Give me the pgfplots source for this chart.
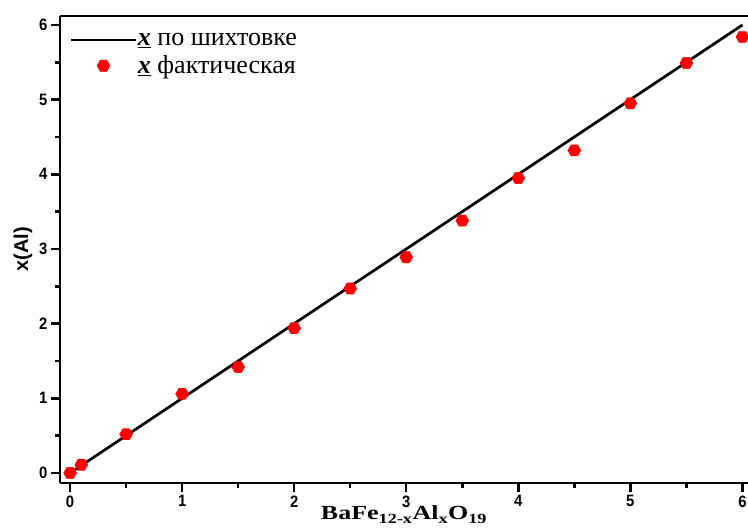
\documentclass[border=0pt]{standalone}
\usepackage{fontspec}
\setmainfont{Liberation Serif}
\newfontfamily\arialfont{Liberation Sans}
\newfontfamily\arialnarrow{Liberation Sans}[FakeStretch=0.9]
\newfontfamily\serifwide{Liberation Serif}[FakeStretch=1.3]
\newfontfamily\seriflegend{Liberation Serif}
\usepackage{pgfplots}
\pgfplotsset{compat=1.18}
\pgfdeclareplotmark{hexagon}{%
  \pgfpathmoveto{\pgfqpointpolar{0}{\pgfplotmarksize}}%
  \pgfpathlineto{\pgfqpointpolar{60}{\pgfplotmarksize}}%
  \pgfpathlineto{\pgfqpointpolar{120}{\pgfplotmarksize}}%
  \pgfpathlineto{\pgfqpointpolar{180}{\pgfplotmarksize}}%
  \pgfpathlineto{\pgfqpointpolar{240}{\pgfplotmarksize}}%
  \pgfpathlineto{\pgfqpointpolar{300}{\pgfplotmarksize}}%
  \pgfpathclose
  \pgfusepathqfillstroke}
\pgfplotsset{
  lineleg/.style={legend image code/.code={\draw[##1] (0bp,0bp) -- (65bp,0bp);}},
  markleg/.style={legend image code/.code={\draw[##1,mark repeat=2,mark phase=2] plot coordinates {(0bp,0bp) (33bp,0bp) (66bp,0bp)};}},
}
\begin{document}
\begin{tikzpicture}
\useasboundingbox (0,0) rectangle (748bp,528bp);
\begin{axis}[
  scale only axis, width=688bp, height=467bp,
  at={(60bp,45bp)}, anchor=south west,
  xmin=-0.09, xmax=6.05, ymin=-0.134, ymax=6.12,
  axis x line=box, axis y line=left,
  axis line style={-, line width=2.5bp, black},
  xtick pos=bottom,
  xtick={0,1,2,3,4,5,6}, ytick={0,1,2,3,4,5,6},
  minor x tick num=1, minor y tick num=1,
  tick align=outside,
  major tick length=9bp, minor tick length=5bp,
  every tick/.style={line width=2.5bp, black},
  /pgf/number format/assume math mode=true,
  tick label style={font=\arialnarrow\bfseries\fontsize{16.5bp}{16.5bp}\selectfont},
  xlabel={\textbf{BaFe\textsubscript{12-x}Al\textsubscript{x}O\textsubscript{19}}},
  xlabel style={font=\serifwide\fontsize{20bp}{20bp}\selectfont, yshift=8bp},
  ylabel={\textbf{x(Al)}},
  ylabel style={font=\arialfont\fontsize{20bp}{20bp}\selectfont, yshift=0bp},
  legend style={at={(rel axis cs:0,1)}, xshift=6bp, yshift=-14bp,
    anchor=north west, draw=none, fill=none,
    font=\seriflegend\fontsize{26bp}{28bp}\selectfont, row sep=7bp,
    nodes={inner sep=1bp}},
  legend cell align=left,
]
\addplot[black, line width=2.7bp, lineleg]
  coordinates {(0,0) (6,6)};
\addlegendentry{\underline{\textbf{\textit{x}}} по шихтовке}
\addplot[only marks, mark=hexagon, mark size=6.5bp, red, mark options={fill=red, draw=red}, markleg]
  coordinates {
  (0,0.00) (0.1,0.11) (0.5,0.52) (1,1.06) (1.5,1.42) (2,1.94) (2.5,2.47)
  (3,2.89) (3.5,3.38) (4,3.95) (4.5,4.32) (5,4.95) (5.5,5.49) (6,5.84)};
\addlegendentry{\underline{\textbf{\textit{x}}} фактическая}
\end{axis}
\end{tikzpicture}
\end{document}
